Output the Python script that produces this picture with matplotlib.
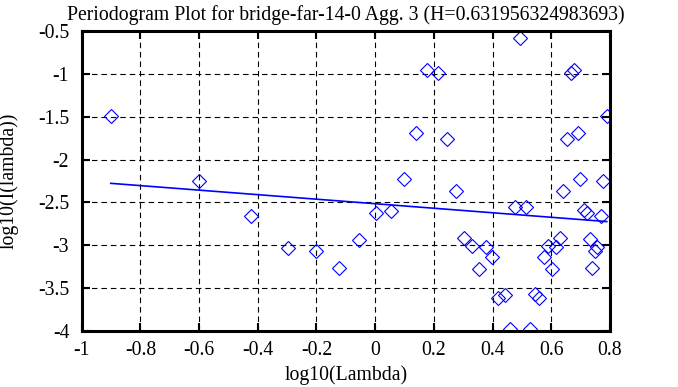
import numpy as np
import matplotlib.pyplot as plt

plt.rcParams['font.family'] = ['Liberation Serif', 'DejaVu Serif']
plt.rcParams['axes.unicode_minus'] = False

# periodogram points
log_lambda = [-0.901, -0.599, -0.424, -0.298, -0.203, -0.122, -0.055, 0.002, 0.054,
              0.097, 0.140, 0.178, 0.213, 0.245, 0.275, 0.303, 0.330, 0.354, 0.376,
              0.399, 0.418, 0.441, 0.459, 0.476, 0.494, 0.513, 0.528, 0.543, 0.559,
              0.574, 0.590, 0.604, 0.617, 0.630, 0.641, 0.654, 0.667, 0.676, 0.690,
              0.699, 0.711, 0.720, 0.732, 0.740, 0.749, 0.757, 0.770, 0.777, 0.789]
log_I = [-1.492, -2.254, -2.659, -3.036, -3.063, -3.262, -2.937, -2.620, -2.600,
         -2.227, -1.694, -0.959, -0.990, -1.757, -2.367, -2.913, -3.009, -3.277, -3.015,
         -3.140, -3.610, -3.575, -3.980, -2.554, -0.578, -2.554, -3.980, -3.573, -3.614,
         -3.137, -3.011, -3.275, -3.015, -2.913, -2.370, -1.755, -0.990, -0.959, -1.694,
         -2.228, -2.590, -2.618, -2.931, -3.262, -3.067, -3.020, -2.655, -2.254, -1.494]

H = 0.631956324983693
slope = 1 - 2 * H
intercept = -2.515

xticks = [-1, -0.8, -0.6, -0.4, -0.2, 0, 0.2, 0.4, 0.6, 0.8]
yticks = [-4, -3.5, -3, -2.5, -2, -1.5, -1, -0.5]

fig = plt.figure(figsize=(6.78, 3.87), dpi=100)
ax = fig.add_axes([0.1205, 0.1447, 0.7792, 0.7752])

ax.plot(log_lambda, log_I, linestyle='none', marker='D', markersize=6.9,
        markerfacecolor='none', markeredgecolor='blue', markeredgewidth=0.8)

x_fit = np.array([min(log_lambda), max(log_lambda)])
ax.plot(x_fit, intercept + slope * x_fit, color='blue', linewidth=1.2)

ax.set_xlim(-1, 0.8)
ax.set_ylim(-4, -0.5)
ax.set_xticks(xticks)
ax.set_yticks(yticks)
ax.set_xticklabels(['-1', '-0.8', '-0.6', '-0.4', '-0.2', '0', '0.2', '0.4', '0.6', '0.8'])
ax.set_yticklabels(['-4', '-3.5', '-3', '-2.5', '-2', '-1.5', '-1', '-0.5'])

ax.grid(True, color='black', linestyle=(0, (5, 3.5)), linewidth=0.8)
ax.tick_params(direction='in', length=6, width=1.5, top=True, right=True,
               labelsize=14.2)
ax.tick_params(axis='x', pad=7)
ax.tick_params(axis='y', pad=9)
for s in ax.spines.values():
    s.set_linewidth(2.2)

ax.set_title('Periodogram Plot for bridge-far-14-0 Agg. 3 (H=0.631956324983693)',
             fontsize=14.2, pad=8)
ax.set_xlabel('log10(Lambda)', fontsize=14.2, labelpad=4)
ax.set_ylabel('log10(I(lambda))', fontsize=14.2, labelpad=14)

plt.savefig('out.png', dpi=100)
